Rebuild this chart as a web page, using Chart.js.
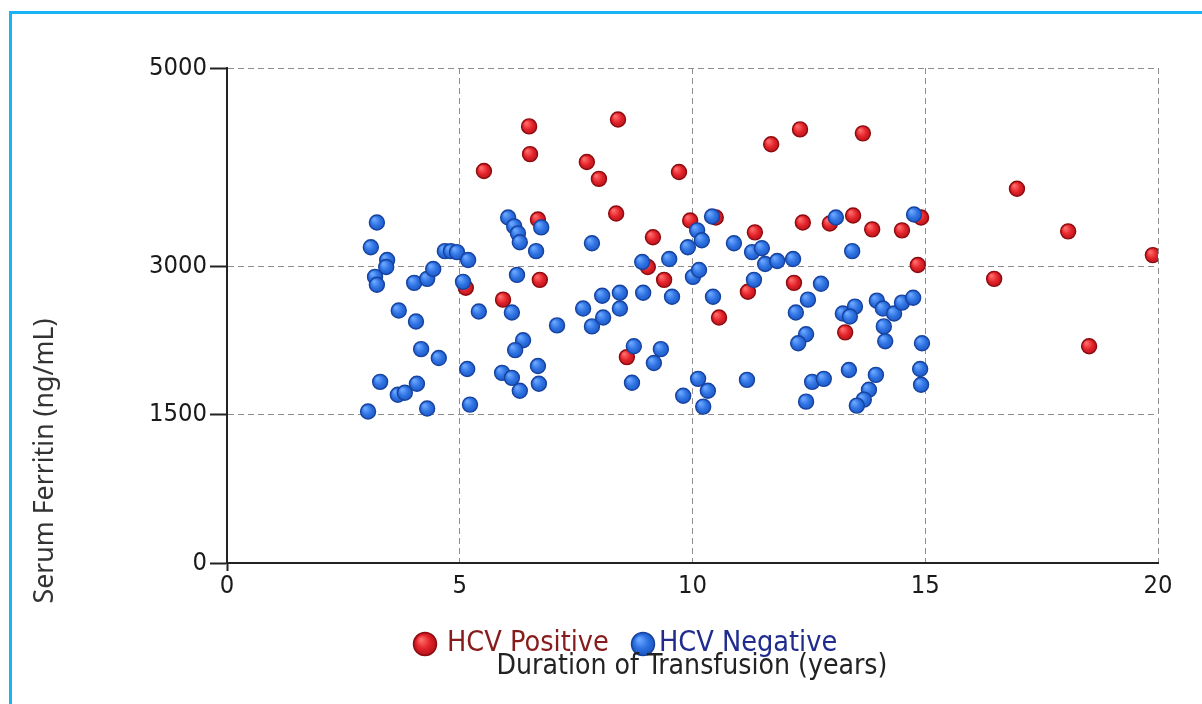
<!DOCTYPE html>
<html>
<head>
<meta charset="utf-8">
<script src="https://cdn.jsdelivr.net/npm/chart.js@4.4.1/dist/chart.umd.min.js"></script>
<style>
  html, body { margin: 0; padding: 0; background: #ffffff; overflow: hidden; }
  #wrap { position: relative; width: 1202px; height: 704px; }
  #c { position: absolute; left: 0; top: 0; }
  #frame { position: absolute; left: 9px; top: 11px; width: 1300px; height: 800px;
           border: 3px solid #18b4f6; box-sizing: border-box; pointer-events: none; }
</style>
</head>
<body>
<div id="wrap">
  <canvas id="c" width="1202" height="704"></canvas>
  <div id="frame"></div>
</div>
<script>
// ---------------- DATA ----------------
const seriesNames = ['HCV Positive', 'HCV Negative'];
const xTickValues = [0, 5, 10, 15, 20];
const yTickValues = [0, 1500, 3000, 5000];
const xAxisTitle = 'Duration of Transfusion (years)';
const yAxisTitle = 'Serum Ferritin (ng/mL)';

const posDuration = [5.52, 6.49, 6.51, 7.73, 7.99, 8.40, 9.71, 8.36, 6.68, 9.15,
                     9.04, 9.39, 6.72, 5.93, 5.13, 8.59, 9.95, 10.50, 10.57, 11.34,
                     11.19, 11.69, 12.31, 13.66, 12.37, 12.95, 13.45, 13.86, 14.50, 14.91,
                     14.84, 12.18, 13.28, 16.97, 18.07, 19.89, 16.48, 18.52];
const posFerritin = [3960, 4410, 4130, 4050, 3880, 4480, 3950, 3530, 3470, 3290,
                     2990, 2860, 2860, 2660, 2780, 2080, 3460, 3490, 2480, 3340,
                     2740, 4230, 4380, 4340, 3440, 3430, 3510, 3370, 3360, 3490,
                     3010, 2830, 2330, 3780, 3350, 3110, 2870, 2190];

const negDuration = [3.22, 3.09, 3.44, 3.42, 3.18, 3.22, 3.69, 4.06, 4.17, 4.55,
                     3.29, 3.67, 3.82, 4.08, 3.03, 4.30, 4.02, 4.30, 4.43, 4.68,
                     4.81, 4.94, 5.18, 5.07, 5.41, 5.16, 5.22, 6.04, 6.17, 6.25,
                     6.29, 6.75, 6.64, 6.23, 6.12, 6.36, 6.19, 5.91, 6.12, 6.29,
                     6.68, 6.70, 7.09, 7.84, 7.65, 7.84, 8.08, 8.06, 8.44, 8.44,
                     8.94, 8.92, 9.50, 9.56, 9.90, 10.10, 10.20, 10.42, 10.01, 10.14,
                     10.44, 10.89, 8.74, 9.32, 9.17, 8.70, 9.80, 10.12, 10.33, 10.23,
                     11.17, 11.28, 11.49, 11.56, 11.82, 12.16, 11.32, 13.08, 14.76, 13.43,
                     12.76, 12.48, 12.22, 12.44, 12.27, 13.23, 13.49, 13.38, 13.96, 14.09,
                     14.33, 14.50, 14.74, 14.11, 14.14, 14.93, 14.89, 14.91, 13.36, 13.94,
                     13.79, 13.68, 13.53, 12.57, 12.82, 12.44];
const negFerritin = [3440, 3190, 3060, 2990, 2890, 2810, 2550, 2440, 2160, 2070,
                     1830, 1700, 1720, 1810, 1530, 1560, 2830, 2870, 2970, 3150,
                     3150, 3140, 3060, 2840, 2540, 1960, 1600, 3490, 3400, 3330,
                     3240, 3390, 3150, 2910, 2530, 2250, 2150, 1920, 1870, 1740,
                     1990, 1810, 2400, 3230, 2570, 2390, 2480, 2700, 2730, 2570,
                     2730, 3040, 3070, 2690, 3190, 3360, 3260, 3500, 2890, 2960,
                     2690, 3230, 2190, 2160, 2020, 1820, 1690, 1860, 1740, 1580,
                     1850, 3140, 3180, 3020, 3050, 3070, 2860, 3490, 3520, 3150,
                     2820, 2660, 2530, 2310, 2220, 2520, 2590, 2490, 2650, 2570,
                     2520, 2630, 2680, 2390, 2240, 2220, 1960, 1800, 1950, 1900,
                     1750, 1650, 1590, 1830, 1860, 1630];

// ---------------- FONTS ----------------
const probe = document.createElement('canvas').getContext('2d');
function hasFont(name) {
  const s = 'abcdefghijklmnopqrstuvwxyz0123456789 ABCDEFGHIJKLM';
  probe.font = '40px monospace'; const a = probe.measureText(s).width;
  probe.font = '40px serif'; const b = probe.measureText(s).width;
  probe.font = "40px '" + name + "', monospace"; const a2 = probe.measureText(s).width;
  probe.font = "40px '" + name + "', serif"; const b2 = probe.measureText(s).width;
  return Math.abs(a - a2) > 0.5 || Math.abs(b - b2) > 0.5;
}
const NARROW = hasFont('Liberation Sans Narrow') ? "'Liberation Sans Narrow'"
             : hasFont('DejaVu Sans Condensed') ? "'DejaVu Sans Condensed'"
             : "'Noto Sans'";
const REGULAR = "'Noto Sans', 'Open Sans', sans-serif";
function fitSize(family, text, target) {
  probe.font = '100px ' + family;
  return 100 * target / probe.measureText(text).width;
}
const tickSize = fitSize(NARROW, '5000', 58);
const legendSize = fitSize(NARROW, 'HCV Positive', 162);
const xTitleSize = fitSize(NARROW, xAxisTitle, 391);
const yTitleSize = fitSize(REGULAR, yAxisTitle, 285);

// ---------------- STYLE ----------------
const posCols = { light: '#ff6a6a', mid: '#e3232a', dark: '#b3121a', border: '#8c0c10', text: '#861c1c' };
const negCols = { light: '#6aa6ff', mid: '#2e72e2', dark: '#1d55c2', border: '#17439f', text: '#1f2c8e' };

function ball(ctx, x, y, r, cols) {
  const g = ctx.createRadialGradient(x - r * 0.35, y - r * 0.4, r * 0.1, x, y, r);
  g.addColorStop(0, cols.light);
  g.addColorStop(0.55, cols.mid);
  g.addColorStop(1, cols.dark);
  return g;
}
function pointFill(cols) {
  return function (c) {
    const chart = c.chart, raw = c.raw;
    if (!raw || !chart.scales || !chart.scales.x || !chart.scales.y) return cols.mid;
    const x = chart.scales.x.getPixelForValue(raw.x);
    const y = chart.scales.y.getPixelForValue(raw.y);
    if (!isFinite(x) || !isFinite(y)) return cols.mid;
    return ball(chart.ctx, x, y, 8.2, cols);
  };
}

const posData = posDuration.map((d, i) => ({ x: d, y: posFerritin[i] }));
const negData = negDuration.map((d, i) => ({ x: d, y: negFerritin[i] }));

const decorPlugin = {
  id: 'decor',
  afterDraw(chart) {
    const ctx = chart.ctx;
    ctx.save();
    // y axis title
    ctx.translate(45, 461);
    ctx.rotate(-Math.PI / 2);
    ctx.font = yTitleSize + 'px ' + REGULAR;
    ctx.fillStyle = '#333333';
    ctx.textAlign = 'center';
    ctx.textBaseline = 'middle';
    ctx.fillText(yAxisTitle, 0, 0);
    ctx.restore();

    ctx.save();
    // legend
    const items = [
      { label: seriesNames[0], cols: posCols, cx: 425, tx: 447 },
      { label: seriesNames[1], cols: negCols, cx: 643, tx: 659 }
    ];
    const ly = 644;
    items.forEach(it => {
      ctx.beginPath();
      ctx.arc(it.cx, ly, 11.5, 0, Math.PI * 2);
      ctx.fillStyle = ball(ctx, it.cx, ly, 11.5, it.cols);
      ctx.fill();
      ctx.lineWidth = 1.5;
      ctx.strokeStyle = it.cols.border;
      ctx.stroke();
      ctx.font = legendSize + 'px ' + NARROW;
      ctx.fillStyle = it.cols.text;
      ctx.textAlign = 'left';
      ctx.textBaseline = 'middle';
      ctx.fillText(it.label, it.tx, ly);
    });
    // x axis title
    ctx.font = xTitleSize + 'px ' + NARROW;
    ctx.fillStyle = '#222222';
    ctx.textAlign = 'center';
    ctx.textBaseline = 'middle';
    ctx.fillText(xAxisTitle, 692, 667);
    ctx.restore();
  }
};

const GRID = '#8e8e8e';
new Chart(document.getElementById('c'), {
  type: 'scatter',
  data: {
    datasets: [
      {
        label: seriesNames[0], data: posData, order: 1,
        pointRadius: 7.5, pointHoverRadius: 7.5, pointBorderWidth: 1.4,
        backgroundColor: pointFill(posCols), borderColor: posCols.border
      },
      {
        label: seriesNames[1], data: negData, order: 0,
        pointRadius: 7.5, pointHoverRadius: 7.5, pointBorderWidth: 1.4,
        backgroundColor: pointFill(negCols), borderColor: negCols.border
      }
    ]
  },
  options: {
    responsive: false,
    animation: false,
    events: [],
    layout: { padding: { top: 68, right: 44, bottom: 0, left: 0 } },
    plugins: { legend: { display: false }, tooltip: { enabled: false }, title: { display: false } },
    scales: {
      x: {
        type: 'linear', min: 0, max: 20,
        afterBuildTicks: s => { s.ticks = xTickValues.map(v => ({ value: v })); },
        afterFit: s => { s.height = 141; },
        ticks: { font: { family: NARROW, size: tickSize }, color: '#1a1a1a', padding: 0,
                 callback: v => String(v) },
        grid: {
          color: c => (c.tick && c.tick.value === 0) ? 'rgba(0,0,0,0)' : GRID,
          lineWidth: 1, tickLength: 8,
          tickColor: c => (c.tick && c.tick.value === 0) ? '#222222' : 'rgba(0,0,0,0)',
          tickBorderDash: [], tickWidth: 2
        },
        border: { display: true, color: '#222222', width: 2, dash: [6, 4] },
        title: { display: false }
      },
      y: {
        type: 'linear', min: 0, max: 5000,
        afterBuildTicks: s => { s.ticks = yTickValues.map(v => ({ value: v })); },
        afterFit: s => { s.width = 227; },
        ticks: { font: { family: NARROW, size: tickSize }, color: '#1a1a1a', padding: 3,
                 callback: v => String(v) },
        grid: {
          color: c => (c.tick && c.tick.value === 0) ? 'rgba(0,0,0,0)' : GRID,
          lineWidth: 1, tickLength: 17,
          tickColor: '#222222', tickBorderDash: [], tickWidth: 2
        },
        border: { display: true, color: '#222222', width: 2, dash: [6, 4] },
        title: { display: false }
      }
    }
  },
  plugins: [decorPlugin]
});
</script>
</body>
</html>
